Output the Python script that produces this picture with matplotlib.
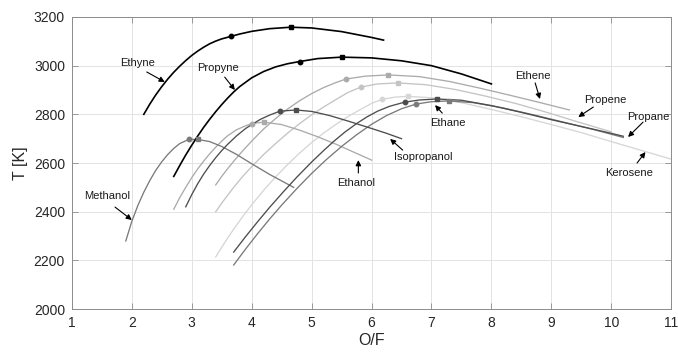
import matplotlib
matplotlib.use("Agg")
import matplotlib.pyplot as plt

# adiabatic flame temperature vs mixture ratio, one curve per fuel
ETHYNE_OF = [2.2, 2.3, 2.4, 2.5, 2.6, 2.7, 2.8, 2.9, 3.0, 3.1, 3.2, 3.3, 3.4, 3.5, 3.65,
             3.8, 4.0, 4.3, 4.65, 5.0, 5.5, 6.0, 6.2]
ETHYNE_T = [2800, 2842, 2880, 2914, 2945, 2973, 2998, 3021, 3042, 3060, 3076, 3090, 3101, 3110, 3120,
            3130, 3141, 3152, 3158, 3155, 3140, 3116, 3105]

PROPYNE_OF = [2.7, 2.8, 2.9, 3.0, 3.1, 3.2, 3.3, 3.4, 3.5, 3.6, 3.7, 3.8, 4.0, 4.2, 4.4, 4.6,
              4.8, 5.1, 5.5, 6.0, 6.5, 7.0, 7.5, 8.0]
PROPYNE_T = [2545, 2590, 2633, 2673, 2711, 2747, 2780, 2811, 2840, 2867, 2892, 2914, 2950, 2976, 2995, 3008,
             3017, 3029, 3035, 3032, 3020, 3000, 2966, 2925]

METHANOL_OF = [1.9, 2.0, 2.1, 2.2, 2.3, 2.4, 2.5, 2.6, 2.7, 2.8, 2.95, 3.1, 3.3, 3.5, 3.75, 4.0, 4.3, 4.7]
METHANOL_T = [2280, 2360, 2425, 2480, 2528, 2570, 2605, 2635, 2660, 2680, 2697, 2697, 2688, 2668, 2635,
              2597, 2553, 2500]

ETHANOL_OF = [2.7, 2.8, 2.9, 3.0, 3.1, 3.2, 3.3, 3.4, 3.5, 3.6, 3.75, 3.9, 4.0, 4.2, 4.5, 4.8, 5.1,
              5.4, 5.7, 6.0]
ETHANOL_T = [2410, 2458, 2500, 2540, 2576, 2608, 2638, 2665, 2690, 2712, 2737, 2753, 2762, 2768, 2758,
             2735, 2708, 2678, 2645, 2612]

ISOPROPANOL_OF = [2.9, 3.0, 3.1, 3.2, 3.3, 3.4, 3.5, 3.6, 3.75, 3.9, 4.0, 4.15, 4.3, 4.47, 4.74, 5.0,
                  5.3, 5.6, 6.0, 6.25, 6.5]
ISOPROPANOL_T = [2420, 2470, 2515, 2555, 2590, 2622, 2651, 2677, 2712, 2742, 2758, 2780, 2797, 2813, 2818,
                 2812, 2795, 2773, 2742, 2722, 2700]

ETHENE_OF = [3.4, 3.5, 3.6, 3.7, 3.85, 4.0, 4.2, 4.4, 4.6, 4.8, 5.0, 5.2, 5.4, 5.57, 5.9, 6.28, 6.8,
             7.3, 7.8, 8.3, 8.8, 9.3]
ETHENE_T = [2510, 2545, 2577, 2607, 2650, 2690, 2740, 2783, 2822, 2856, 2885, 2910, 2930, 2945, 2957, 2962,
            2955, 2935, 2908, 2879, 2849, 2818]

PROPENE_OF = [3.4, 3.5, 3.6, 3.7, 3.85, 4.0, 4.2, 4.4, 4.6, 4.8, 5.0, 5.2, 5.4, 5.6, 5.82, 6.1, 6.44,
              6.9, 7.4, 7.9, 8.4, 8.9, 9.4, 10.0]
PROPENE_T = [2400, 2435, 2468, 2500, 2545, 2585, 2635, 2680, 2723, 2762, 2798, 2830, 2860, 2889, 2912,
             2925, 2929, 2922, 2902, 2875, 2845, 2810, 2772, 2728]

KEROSENE_OF = [3.4, 3.5, 3.6, 3.7, 3.85, 4.0, 4.2, 4.4, 4.6, 4.8, 5.0, 5.2, 5.4, 5.6, 5.8, 6.0, 6.18,
               6.4, 6.61, 7.0, 7.5, 8.0, 8.5, 9.0, 9.5, 10.0, 10.5, 11.0]
KEROSENE_T = [2214, 2254, 2292, 2328, 2380, 2428, 2488, 2543, 2594, 2641, 2684, 2723, 2758, 2790, 2818,
              2845, 2862, 2871, 2874, 2868, 2848, 2820, 2790, 2758, 2725, 2688, 2652, 2616]

ETHANE_OF = [3.7, 3.9, 4.1, 4.3, 4.53, 4.75, 5.0, 5.2, 5.36, 5.55, 5.75, 5.92, 6.1, 6.3, 6.55, 6.8,
             7.09, 7.5, 8.0, 8.5, 9.0, 9.5, 10.0, 10.2]
ETHANE_T = [2234, 2298, 2359, 2418, 2482, 2541, 2604, 2651, 2687, 2726, 2762, 2789, 2813, 2833, 2850, 2859,
            2863, 2858, 2836, 2808, 2778, 2750, 2722, 2710]

PROPANE_OF = [3.7, 3.9, 4.1, 4.3, 4.5, 4.75, 5.0, 5.25, 5.5, 5.75, 6.0, 6.25, 6.5, 6.74, 7.0, 7.29,
              7.7, 8.2, 8.7, 9.2, 9.7, 10.2]
PROPANE_T = [2181, 2247, 2310, 2370, 2427, 2494, 2557, 2615, 2668, 2716, 2759, 2795, 2823, 2842, 2852, 2855,
             2848, 2826, 2798, 2768, 2738, 2705]

# optimum points marked on each curve (circle, square)
FUELS = ["Kerosene", "Propene", "Ethanol", "Ethene", "Methanol", "Propane",
         "Ethane", "Isopropanol", "Propyne", "Ethyne"]
CIRCLE_OF = [6.18, 5.82, 4.0, 5.57, 2.95, 6.74, 6.55, 4.47, 4.8, 3.65]
CIRCLE_T = [2862, 2912, 2762, 2945, 2697, 2842, 2850, 2813, 3017, 3120]
SQUARE_OF = [6.61, 6.44, 4.2, 6.28, 3.1, 7.29, 7.09, 4.74, 5.5, 4.65]
SQUARE_T = [2874, 2929, 2768, 2962, 2697, 2855, 2863, 2818, 3035, 3158]

curves = {
    "Kerosene": (KEROSENE_OF, KEROSENE_T),
    "Propene": (PROPENE_OF, PROPENE_T),
    "Ethanol": (ETHANOL_OF, ETHANOL_T),
    "Ethene": (ETHENE_OF, ETHENE_T),
    "Methanol": (METHANOL_OF, METHANOL_T),
    "Propane": (PROPANE_OF, PROPANE_T),
    "Ethane": (ETHANE_OF, ETHANE_T),
    "Isopropanol": (ISOPROPANOL_OF, ISOPROPANOL_T),
    "Propyne": (PROPYNE_OF, PROPYNE_T),
    "Ethyne": (ETHYNE_OF, ETHYNE_T),
}
colors = {
    "Kerosene": "#d6d6d6", "Propene": "#c4c4c4", "Ethanol": "#ababab",
    "Ethene": "#ababab", "Methanol": "#7a7a7a", "Propane": "#7a7a7a",
    "Ethane": "#4d4d4d", "Isopropanol": "#4d4d4d", "Propyne": "#000000",
    "Ethyne": "#000000",
}

# label text position, arrow tail, arrow tip
labels = [
    ("Ethyne", (2.10, 3011), (2.25, 2974), (2.55, 2933)),
    ("Propyne", (3.44, 2990), (3.55, 2953), (3.72, 2900)),
    ("Methanol", (1.58, 2464), (1.72, 2419), (2.0, 2366)),
    ("Ethanol", (5.74, 2518), (5.78, 2559), (5.78, 2612)),
    ("Isopropanol", (6.86, 2625), (6.52, 2653), (6.31, 2699)),
    ("Ethane", (7.28, 2764), (7.18, 2805), (7.06, 2838)),
    ("Ethene", (8.70, 2958), (8.73, 2929), (8.81, 2863)),
    ("Propene", (9.90, 2859), (9.70, 2830), (9.45, 2789)),
    ("Propane", (10.62, 2789), (10.53, 2768), (10.28, 2707)),
    ("Kerosene", (10.30, 2559), (10.43, 2600), (10.57, 2645)),
]

plt.rcParams["font.family"] = ["Liberation Sans", "DejaVu Sans"]

fig = plt.figure(figsize=(6.78, 3.54), dpi=100)
ax = fig.add_axes([0.106, 0.127, 0.884, 0.825])

for i, name in enumerate(FUELS):
    of, t = curves[name]
    c = colors[name]
    lw = 1.2 if c == "#000000" else 0.95
    ax.plot(of, t, color=c, lw=lw, zorder=2 + i * 0.1)
    ax.plot(CIRCLE_OF[i], CIRCLE_T[i], "o", color=c, ms=3.2, zorder=3 + i * 0.1)
    ax.plot(SQUARE_OF[i], SQUARE_T[i], "s", color=c, ms=3.0, zorder=3 + i * 0.1)

for text, pos, tail, tip in labels:
    ax.text(pos[0], pos[1], text, ha="center", va="center", fontsize=8,
            color="#1a1a1a", zorder=5)
    ax.annotate("", xy=tip, xytext=tail,
                arrowprops=dict(arrowstyle="-|>", color="k", lw=0.8,
                                mutation_scale=8, shrinkA=0, shrinkB=0),
                zorder=5)

ax.set_xlim(1, 11)
ax.set_ylim(2000, 3200)
ax.set_xticks(range(1, 12))
ax.set_yticks(range(2000, 3201, 200))
ax.grid(True, color="#e3e3e3", lw=0.7)
ax.set_axisbelow(True)
ax.tick_params(direction="in", length=4, width=0.6, color="#8c8c8c",
               labelsize=10, labelcolor="#262626", top=True, right=True, pad=5)
for s in ax.spines.values():
    s.set_color("#8c8c8c")
    s.set_linewidth(0.7)
ax.set_xlabel("O/F", fontsize=11.5, color="#262626", labelpad=2)
ax.set_ylabel("T [K]", fontsize=11.5, color="#262626", labelpad=4)

fig.savefig("out.png", dpi=100)
